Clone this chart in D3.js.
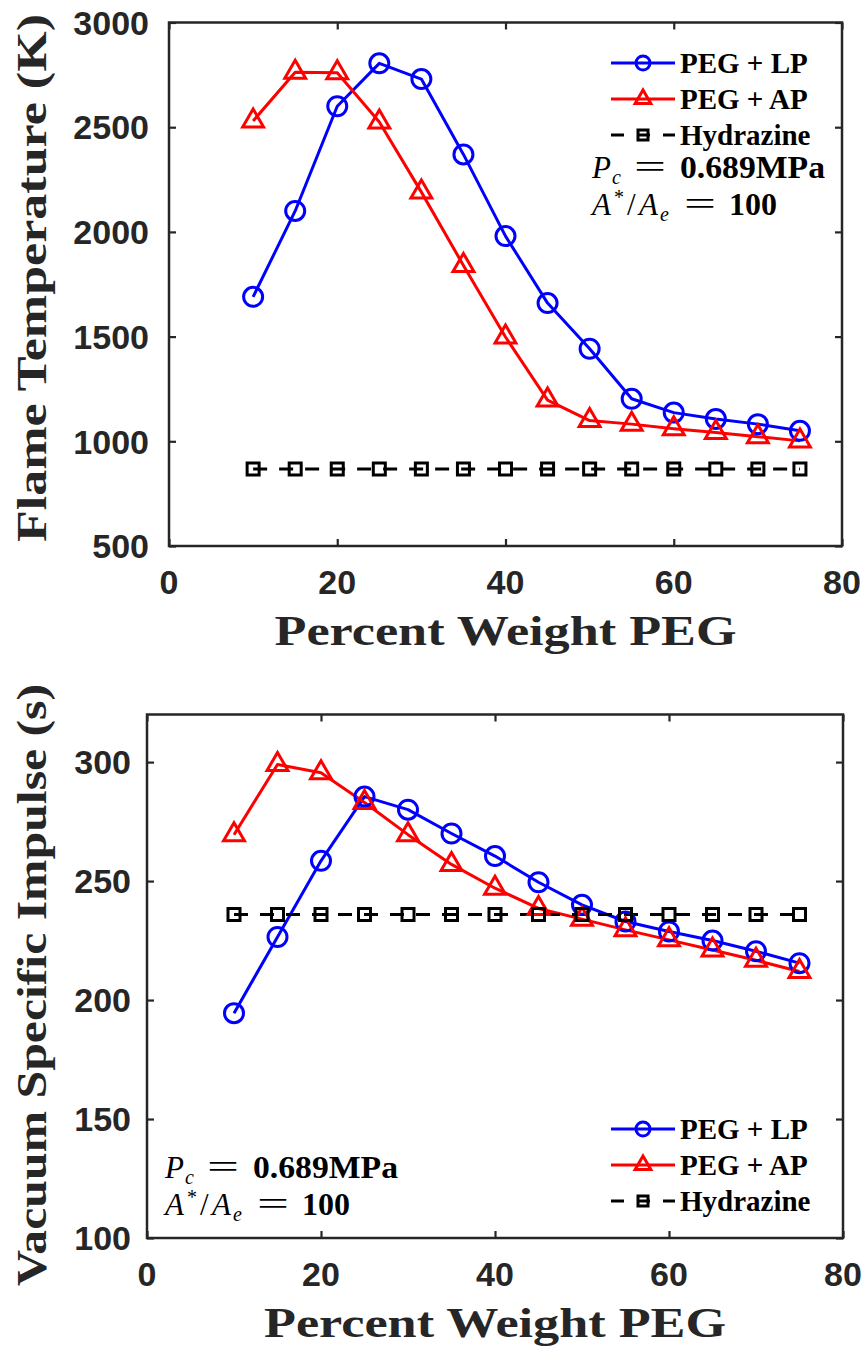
<!DOCTYPE html>
<html>
<head>
<meta charset="utf-8">
<script src="https://cdn.jsdelivr.net/npm/d3@7"></script>
<style>
  html, body { margin: 0; padding: 0; background: #fff; }
  svg { display: block; }
</style>
</head>
<body>
<svg id="fig" width="866" height="1348"></svg>
<script>
// Percent weight of PEG in each formulation
const pegPct = [10, 15, 20, 25, 30, 35, 40, 45, 50, 55, 60, 65, 70, 75];

// Adiabatic flame temperature (K)
const tempLP  = [1690, 2100, 2600, 2805, 2730, 2370, 1980, 1660, 1442, 1203, 1137, 1107, 1082, 1050];
const tempAP  = [2530, 2762, 2760, 2525, 2190, 1840, 1498, 1197, 1099, 1082, 1060, 1042, 1022, 1002];
const tempHyd = [868, 868, 868, 868, 868, 868, 868, 868, 868, 868, 868, 868, 868, 868];

// Vacuum specific impulse (s)
const ispLP  = [194.5, 226.5, 258.5, 285.5, 280, 270, 260.5, 249.5, 240, 233, 228.8, 225, 220.5, 215.5];
const ispAP  = [269.5, 299, 295.5, 283, 269.5, 257, 247, 238.5, 234, 229.5, 225.3, 221, 216.7, 212];
const ispHyd = [236, 236, 236, 236, 236, 236, 236, 236, 236, 236, 236, 236, 236, 236];

// Axis ticks
const xTicks    = [0, 20, 40, 60, 80];
const tempTicks = [500, 1000, 1500, 2000, 2500, 3000];
const ispTicks  = [100, 150, 200, 250, 300];

const seriesNames = ["PEG + LP", "PEG + AP", "Hydrazine"];
const seriesColors = ["#0000ff", "#ff0000", "#000000"];

const svg = d3.select("#fig");
const INK = "#262626";

function markerPath(kind, size) {
  if (kind === "triangle") {
    const r = size;
    return `M0,${-r}L${r * 0.87},${r * 0.5}L${-r * 0.87},${r * 0.5}Z`;
  }
  const h = size;
  return `M${-h},${-h}H${h}V${h}H${-h}Z`;
}

function drawMarker(g, kind, x, y, color, size) {
  if (kind === "circle") {
    g.append("circle").attr("cx", x).attr("cy", y).attr("r", size)
      .attr("fill", "none").attr("stroke", color).attr("stroke-width", 3);
  } else {
    g.append("path").attr("d", markerPath(kind, size))
      .attr("transform", `translate(${x},${y})`)
      .attr("fill", "none").attr("stroke", color).attr("stroke-width", 3)
      .attr("stroke-linejoin", "miter");
  }
}

// Operating-condition note: P_c = 0.689MPa / A*/A_e = 100
function drawNote(g, x0, y0) {
  const sf = "'Liberation Serif', 'Times New Roman', serif";
  const note = g.append("g").attr("font-family", sf).attr("fill", "#000");
  const piece = (dx, dy, txt, opts = {}) => {
    const t = note.append("text").attr("x", x0 + dx).attr("y", y0 + dy)
      .attr("font-size", opts.size || 31)
      .attr("font-style", opts.italic ? "italic" : null)
      .attr("font-weight", opts.bold ? "bold" : null)
      .text(txt);
    if (opts.len) t.attr("textLength", opts.len).attr("lengthAdjust", "spacingAndGlyphs");
  };
  // first line
  piece(0, 0, "P", { italic: true });
  piece(20, 6, "c", { italic: true, size: 20 });
  piece(42, 0, "=", { size: 34, len: 32 });
  piece(88, 0, "0.689MPa", { bold: true, len: 145 });
  // second line
  const y2 = 37;
  piece(0, y2, "A", { italic: true });
  piece(22, y2 - 11, "*", { size: 20 });
  piece(35, y2, "/", {});
  piece(47, y2, "A", { italic: true });
  piece(68, y2 + 6, "e", { italic: true, size: 20 });
  piece(92, y2, "=", { size: 34, len: 32 });
  piece(137, y2, "100", { bold: true, len: 48 });
}

function drawPanel(p) {
  const g = svg.append("g");
  const x = d3.scaleLinear().domain([0, 80]).range([p.left, p.right]);
  const y = d3.scaleLinear().domain(p.yDomain).range([p.bottom, p.top]);

  // series
  const series = [
    { vals: p.lp,  color: seriesColors[0], kind: "circle",   size: 9.5, dash: null },
    { vals: p.ap,  color: seriesColors[1], kind: "triangle", size: 12,  dash: null },
    { vals: p.hyd, color: seriesColors[2], kind: "square",   size: 6,   dash: "14,12" }
  ];
  const line = d3.line().x(d => x(d[0])).y(d => y(d[1]));
  series.forEach(s => {
    const pts = pegPct.map((v, i) => [v, s.vals[i]]);
    g.append("path").attr("d", line(pts))
      .attr("fill", "none").attr("stroke", s.color).attr("stroke-width", 3)
      .attr("stroke-linejoin", "round")
      .attr("stroke-dasharray", s.dash);
  });
  series.forEach(s => {
    pegPct.forEach((v, i) => drawMarker(g, s.kind, x(v), y(s.vals[i]), s.color, s.size));
  });

  // axes box with mirrored inward ticks
  const tl = 7;
  const axB = d3.axisBottom(x).tickValues(xTicks).tickSize(tl).tickFormat("");
  const axT = d3.axisTop(x).tickValues(xTicks).tickSize(tl).tickFormat("");
  const axL = d3.axisLeft(y).tickValues(p.yTicks).tickSize(tl).tickFormat("");
  const axR = d3.axisRight(y).tickValues(p.yTicks).tickSize(tl).tickFormat("");
  const style = sel => {
    sel.selectAll("path.domain").remove();
    sel.selectAll("line").attr("stroke", INK).attr("stroke-width", 2.2);
  };
  g.append("g").attr("transform", `translate(0,${p.bottom})`).call(axT).call(style);
  g.append("g").attr("transform", `translate(0,${p.top})`).call(axB).call(style);
  g.append("g").attr("transform", `translate(${p.left},0)`).call(axR).call(style);
  g.append("g").attr("transform", `translate(${p.right},0)`).call(axL).call(style);
  g.append("rect").attr("x", p.left).attr("y", p.top)
    .attr("width", p.right - p.left).attr("height", p.bottom - p.top)
    .attr("fill", "none").attr("stroke", INK).attr("stroke-width", 2.5);

  // tick labels
  const tf = "'Liberation Sans', Arial, sans-serif";
  xTicks.forEach(t => {
    g.append("text").attr("x", x(t)).attr("y", p.bottom + 48)
      .attr("text-anchor", "middle").attr("font-family", tf).attr("font-weight", "bold")
      .attr("font-size", 34).attr("fill", INK).text(t);
  });
  p.yTicks.forEach(t => {
    g.append("text").attr("x", p.left - p.tickPad).attr("y", y(t)).attr("dy", "0.36em")
      .attr("text-anchor", "end").attr("font-family", tf).attr("font-weight", "bold")
      .attr("font-size", 34).attr("fill", INK).text(t);
  });

  // axis titles
  const sf = "'Liberation Serif', 'Times New Roman', serif";
  g.append("text").attr("x", (p.left + p.right) / 2).attr("y", p.bottom + 99)
    .attr("text-anchor", "middle").attr("font-family", sf).attr("font-weight", "bold")
    .attr("font-size", 42).attr("fill", INK)
    .attr("textLength", 462).attr("lengthAdjust", "spacingAndGlyphs")
    .text("Percent Weight PEG");
  g.append("text")
    .attr("transform", `translate(46,${p.yLabelMid}) rotate(-90)`)
    .attr("text-anchor", "middle").attr("font-family", sf).attr("font-weight", "bold")
    .attr("font-size", 43).attr("fill", INK)
    .attr("textLength", p.yLabelLen).attr("lengthAdjust", "spacingAndGlyphs")
    .text(p.yLabel);

  // legend
  const lg = g.append("g");
  series.forEach((s, i) => {
    const cy = p.legendY + i * 36;
    lg.append("line").attr("x1", 611).attr("x2", 675).attr("y1", cy).attr("y2", cy)
      .attr("stroke", s.color).attr("stroke-width", 3)
      .attr("stroke-dasharray", s.dash ? "13,13" : null);
    drawMarker(lg, s.kind, 643, cy, s.color, s.kind === "circle" ? 7 : (s.kind === "triangle" ? 9 : 5));
    lg.append("text").attr("x", 680).attr("y", cy).attr("dy", "0.34em")
      .attr("font-family", sf).attr("font-weight", "bold").attr("font-size", 29)
      .attr("fill", "#000").text(seriesNames[i]);
  });

  drawNote(g, p.noteX, p.noteY);
}

drawPanel({
  left: 169, right: 842, top: 22.5, bottom: 546,
  yDomain: [500, 3000], yTicks: tempTicks, tickPad: 20,
  lp: tempLP, ap: tempAP, hyd: tempHyd,
  yLabel: "Flame Temperature (K)", yLabelMid: 278, yLabelLen: 528,
  legendY: 63, noteX: 592, noteY: 178
});

drawPanel({
  left: 147, right: 843, top: 714.5, bottom: 1238,
  yDomain: [100, 320], yTicks: ispTicks, tickPad: 16,
  lp: ispLP, ap: ispAP, hyd: ispHyd,
  yLabel: "Vacuum Specific Impulse (s)", yLabelMid: 985, yLabelLen: 602,
  legendY: 1129, noteX: 165, noteY: 1178
});
</script>
</body>
</html>
